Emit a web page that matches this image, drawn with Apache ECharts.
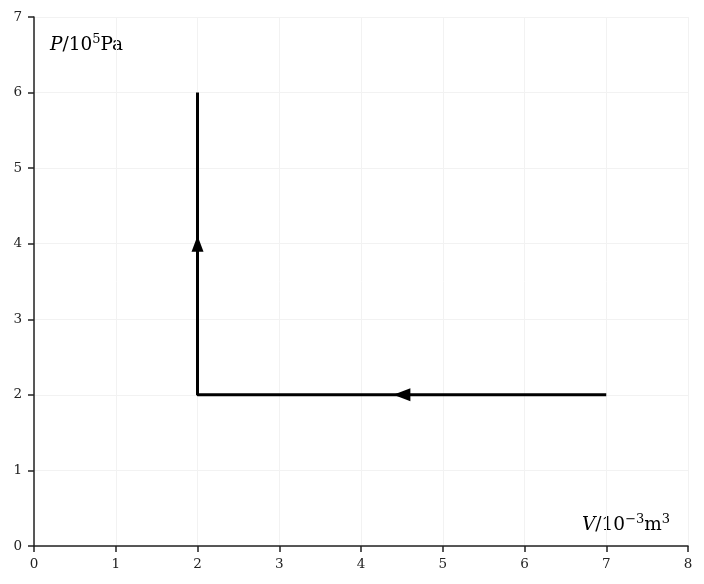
<!DOCTYPE html>
<html>
<head>
<meta charset="utf-8">
<script src="https://cdn.jsdelivr.net/npm/echarts@6/dist/echarts.min.js"></script>
<style>html,body{margin:0;padding:0;background:#fff}#c{width:704px;height:584px}</style>
</head>
<body>
<div id="c"></div>
<script>
const pathPoints = [[7, 2], [2, 2], [2, 6]];
const arrowLeft = [[4.5, 2]];
const arrowUp = [[2, 4]];
const xTicks = [0, 1, 2, 3, 4, 5, 6, 7, 8];
const yTicks = [0, 1, 2, 3, 4, 5, 6, 7];

const font = 'DejaVu Serif';
const chart = echarts.init(document.getElementById('c'));
const richStyles = {
  i: { fontFamily: font, fontStyle: 'italic', fontSize: 18.5, fill: '#000', verticalAlign: 'bottom', lineHeight: 22 },
  n: { fontFamily: font, fontSize: 18.5, fill: '#000', verticalAlign: 'bottom', lineHeight: 22 },
  s: { fontFamily: font, fontSize: 13, fill: '#000', verticalAlign: 'top', lineHeight: 22, padding: [0, 0, 8, 0] }
};
chart.setOption({
  animation: false,
  backgroundColor: '#fff',
  grid: { left: 34, right: 16, top: 17, bottom: 38, containLabel: false },
  xAxis: {
    type: 'value', min: xTicks[0], max: xTicks[xTicks.length - 1], interval: 1,
    axisLine: { onZero: false, lineStyle: { color: '#222', width: 1.5 } },
    axisTick: { show: true, length: 6, lineStyle: { color: '#222', width: 1.5 } },
    axisLabel: { color: '#222', fontFamily: font, fontSize: 13.5, margin: 11 },
    splitLine: { show: true, lineStyle: { color: '#f2f2f2', width: 1 } }
  },
  yAxis: {
    type: 'value', min: yTicks[0], max: yTicks[yTicks.length - 1], interval: 1,
    axisLine: { show: true, onZero: false, lineStyle: { color: '#222', width: 1.5 } },
    axisTick: { show: true, length: 6, lineStyle: { color: '#222', width: 1.5 } },
    axisLabel: { color: '#222', fontFamily: font, fontSize: 13.5, margin: 12 },
    splitLine: { show: true, lineStyle: { color: '#f2f2f2', width: 1 } }
  },
  series: [
    {
      type: 'line', data: pathPoints, showSymbol: false, symbol: 'none',
      lineStyle: { color: '#000', width: 3 }, z: 3
    },
    {
      type: 'scatter', data: arrowLeft, symbol: 'triangle', symbolSize: [13, 17],
      symbolRotate: 90, itemStyle: { color: '#000', opacity: 1 }, z: 4
    },
    {
      type: 'scatter', data: arrowUp, symbol: 'triangle', symbolSize: [12, 16],
      symbolRotate: 0, itemStyle: { color: '#000', opacity: 1 }, z: 4
    }
  ],
  graphic: [
    {
      type: 'text', left: 50, top: 33,
      style: { text: '{i|P}{n|/10}{s|5}{n|Pa}', rich: richStyles }
    },
    {
      type: 'text', left: 582, top: 513,
      style: { text: '{i|V}{n|/10}{s|−3}{n|m}{s|3}', rich: richStyles }
    }
  ]
});
</script>
</body>
</html>
